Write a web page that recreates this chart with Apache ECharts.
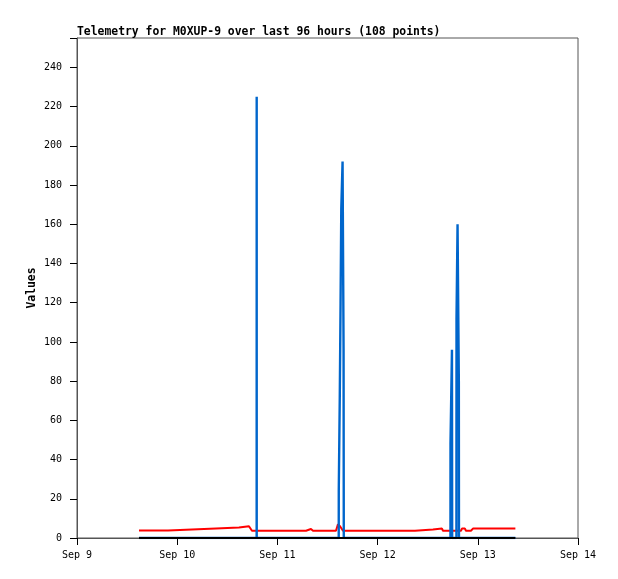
<!DOCTYPE html>
<html>
<head>
<meta charset="utf-8">
<script src="https://cdn.jsdelivr.net/npm/echarts@6/dist/echarts.min.js"></script>
<style>html,body{margin:0;padding:0;background:#fff}#c{width:618px;height:579px}</style>
</head>
<body>
<div id="c"></div>
<script>
// hours since Sep 9 00:00
var dayLabels = ['Sep 9','Sep 10','Sep 11','Sep 12','Sep 13','Sep 14'];
var yTicks = [0,20,40,60,80,100,120,140,160,180,200,220,240];

var redHours  = [14.85,16.29,16.53,16.77,21.8,22.03,27.54,27.78,33.29,33.53,38.8,39.04,41.19,41.91,54.85,55.32,56.04,56.52,62.03,62.5,63.0,63.47,63.71,80.95,81.19,85.26,85.5,87.42,87.66,91.97,92.2,92.92,93.16,94.36,94.84,105.0];
var redValues = [3.8,3.8,4.8,3.8,3.8,4.3,4.3,4.8,4.8,5.3,5.3,6.0,6.0,3.7,3.7,4.6,4.6,3.7,3.7,7.0,6.0,6.0,3.7,3.7,4.3,4.3,4.8,4.8,3.7,3.7,4.8,4.8,3.7,3.7,4.8,4.8];

var blueHours  = [14.85,43.03,43.04,43.05,62.69,62.70,62.94,63.13,63.30,63.61,63.85,63.90,89.45,89.46,89.81,89.86,90.88,90.90,91.15,91.46,91.49,105.0];
var blueValues = [0,0,225,0,0,24,72,120,168,192,96,0,0,48,96,0,0,112,160,80,0,0];

var blackHours  = [14.85,105.0];
var blackValues = [0,0];

function pairs(h,v){return h.map(function(x,i){return [x,v[i]];});}

var font = '"DejaVu Sans Mono", monospace';
var chart = echarts.init(document.getElementById('c'));
chart.setOption({
  animation:false,
  backgroundColor:'#fff',
  title:{text:'Telemetry for M0XUP-9 over last 96 hours (108 points)',left:72,top:22,
    textStyle:{fontFamily:font,fontSize:11.4,fontWeight:'bold',color:'#000'}},
  grid:{left:77,right:40,top:38,bottom:41,show:true,borderColor:'#555',borderWidth:1,backgroundColor:'transparent'},
  xAxis:{type:'value',min:0,max:120,interval:24,
    axisLine:{show:true,lineStyle:{color:'#555'}},
    axisTick:{show:true,length:7,lineStyle:{color:'#000'}},
    splitLine:{show:false},
    axisLabel:{margin:12,color:'#000',fontFamily:font,fontSize:10,
      formatter:function(v){return dayLabels[Math.round(v/24)];}}},
  yAxis:{type:'value',min:0,max:255,interval:20,name:'Values',nameLocation:'middle',nameGap:39,
    nameMoveOverlap:false,
    nameTextStyle:{fontFamily:font,fontSize:11.4,fontWeight:'bold',color:'#000'},
    axisLine:{show:true,lineStyle:{color:'#555'}},
    axisTick:{show:true,length:7,lineStyle:{color:'#000'}},
    splitLine:{show:false},
    axisLabel:{margin:15,color:'#000',fontFamily:font,fontSize:10,
      formatter:function(v){return yTicks.indexOf(v)>=0?String(v):'';}}},
  series:[
    {type:'line',data:pairs(redHours,redValues),symbol:'none',lineStyle:{color:'#ff0000',width:2},z:2},
    {type:'line',data:pairs(blueHours,blueValues),symbol:'none',lineStyle:{color:'#0066cc',width:2.4},z:3},
    {type:'line',data:pairs(blackHours,blackValues),symbol:'none',lineStyle:{color:'#000000',width:2},z:4}
  ]
});
</script>
</body>
</html>
